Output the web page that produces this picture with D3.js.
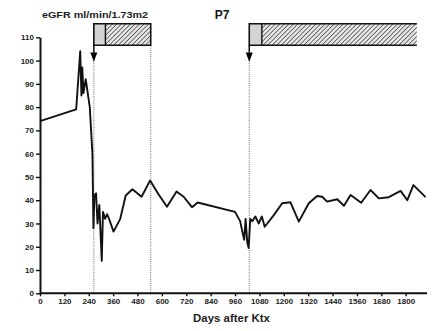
<!DOCTYPE html>
<html>
<head>
<meta charset="utf-8">
<script src="https://cdn.jsdelivr.net/npm/d3@7"></script>
<style>
  body { margin: 0; background: #fff; }
  svg text { font-family: "Liberation Sans", Arial, sans-serif; font-weight: bold; fill: #222; }
</style>
</head>
<body>
<svg id="chart" width="433" height="331"></svg>
<script>
// days after transplant
const days = [0, 178, 198, 204, 208, 214, 225, 245, 258, 263, 268, 276, 283, 292, 304, 310, 320, 330, 340, 362,
  395, 422, 455, 500, 542, 580, 625, 672, 707, 748, 776, 960, 985, 1005, 1012, 1020, 1027, 1035, 1045,
  1060, 1077, 1092, 1106, 1151, 1192, 1233, 1274, 1323, 1364, 1389, 1413, 1463, 1496, 1529, 1581,
  1627, 1668, 1717, 1775, 1808, 1838, 1898];
// eGFR ml/min/1.73m2
const egfr = [74, 79, 104, 85, 97, 86, 92, 80, 60, 28, 42, 43, 30, 38, 14, 35, 32, 34, 32, 26.5,
  32, 42, 44.7, 41.5, 48.5, 43, 37.2, 43.7, 41.5, 37, 39, 35, 31, 23, 32, 22, 19.5, 32, 31,
  33, 30, 33, 28.6, 33.6, 38.7, 39.1, 30.8, 38.7, 41.8, 41.5, 39.4, 40.4, 37.6, 42.2, 38.9,
  44.4, 40.8, 41.3, 44, 40, 46.5, 41.3];

const xTicks = d3.range(0, 1801, 120);
const yTicks = d3.range(0, 111, 10);

// treatment periods: [start, switch, end]
const periods = [
  { start: 265, mid: 322, end: 545, closed: true },
  { start: 1030, mid: 1092, end: 1855, closed: false },
];

const svg = d3.select("#chart");
const x = d3.scaleLinear().domain([0, 1900]).range([40, 426]);
const y = d3.scaleLinear().domain([0, 110]).range([293.3, 37.3]);

const defs = svg.append("defs");
const pat = defs.append("pattern")
  .attr("id", "hatch")
  .attr("patternUnits", "userSpaceOnUse")
  .attr("width", 3.2).attr("height", 3.2)
  .attr("patternTransform", "rotate(45)");
pat.append("rect").attr("width", 3.2).attr("height", 3.2).attr("fill", "#e6e6e6");
pat.append("line").attr("x1", 0).attr("y1", 0).attr("x2", 0).attr("y2", 3.2)
  .attr("stroke", "#333").attr("stroke-width", 1.3);

// dotted guides
const guides = [periods[0].start, periods[0].end, periods[1].start];
svg.append("g").selectAll("line").data(guides).enter().append("line")
  .attr("x1", d => x(d)).attr("x2", d => x(d))
  .attr("y1", y(106.5)).attr("y2", y(0))
  .attr("stroke", "#666").attr("stroke-width", 1)
  .attr("stroke-dasharray", "1,1.2");

// boxes
const boxTop = 115.8, boxBot = 106.6;
const bx = svg.append("g");
periods.forEach(p => {
  bx.append("rect")
    .attr("x", x(p.start)).attr("y", y(boxTop))
    .attr("width", x(p.mid) - x(p.start)).attr("height", y(boxBot) - y(boxTop))
    .attr("fill", "#d4d4d4");
  bx.append("rect")
    .attr("x", x(p.mid)).attr("y", y(boxTop))
    .attr("width", x(p.end) - x(p.mid)).attr("height", y(boxBot) - y(boxTop))
    .attr("fill", "url(#hatch)");
  const xs = x(p.start), xe = x(p.end), yt = y(boxTop), yb = y(boxBot);
  const path = p.closed
    ? `M${xs},${yt}H${xe}V${yb}H${xs}Z`
    : `M${xe},${yt}H${xs}V${yb}H${xe}`;
  bx.append("path").attr("d", path).attr("fill", "none").attr("stroke", "#111").attr("stroke-width", 1.6);
  bx.append("line")
    .attr("x1", x(p.mid)).attr("x2", x(p.mid))
    .attr("y1", yt).attr("y2", yb)
    .attr("stroke", "#111").attr("stroke-width", 1.4);
  // arrow down from box
  const tip = y(99.5), head = y(103.5);
  bx.append("line")
    .attr("x1", xs).attr("x2", xs)
    .attr("y1", yb).attr("y2", head)
    .attr("stroke", "#000").attr("stroke-width", 1.4);
  bx.append("path")
    .attr("d", `M${xs - 3.5},${head}L${xs + 3.5},${head}L${xs},${tip}Z`)
    .attr("fill", "#000");
});

// axes
const xAxis = svg.append("g")
  .attr("transform", `translate(0,${y(0)})`)
  .call(d3.axisBottom(x).tickValues(xTicks).tickFormat(d3.format("d")).tickSize(3).tickPadding(2).tickSizeOuter(0));
const yAxis = svg.append("g")
  .attr("transform", `translate(${x(0)},0)`)
  .call(d3.axisLeft(y).tickValues(yTicks).tickFormat(d3.format("d")).tickSize(4).tickPadding(2).tickSizeOuter(0));
[xAxis, yAxis].forEach(g => {
  g.select(".domain").attr("stroke", "#111").attr("stroke-width", 2);
  g.selectAll(".tick line").attr("stroke", "#111").attr("stroke-width", 1.4);
  g.selectAll("text").attr("font-size", 8).attr("font-family", "Liberation Sans, Arial, sans-serif")
    .attr("font-weight", "bold").attr("fill", "#333");
});
xAxis.select(".domain").attr("d", `M${x(0)},0H427`);

// data line
const pts = days.map((d, i) => [d, egfr[i]]);
svg.append("path")
  .datum(pts)
  .attr("fill", "none")
  .attr("stroke", "#111")
  .attr("stroke-width", 1.9)
  .attr("stroke-linejoin", "round")
  .attr("d", d3.line().x(d => x(d[0])).y(d => y(d[1])));

// texts
svg.append("text").attr("x", 42).attr("y", 17.5)
  .attr("font-size", 9.5).attr("textLength", 106).attr("lengthAdjust", "spacingAndGlyphs")
  .text("eGFR ml/min/1.73m2");
svg.append("text").attr("x", 222).attr("y", 18.5).attr("text-anchor", "middle")
  .attr("font-size", 12).style("fill", "#111")
  .text("P7");
svg.append("text").attr("x", 193).attr("y", 321.5)
  .attr("font-size", 10).attr("textLength", 77).attr("lengthAdjust", "spacingAndGlyphs")
  .text("Days after Ktx");
</script>
</body>
</html>
